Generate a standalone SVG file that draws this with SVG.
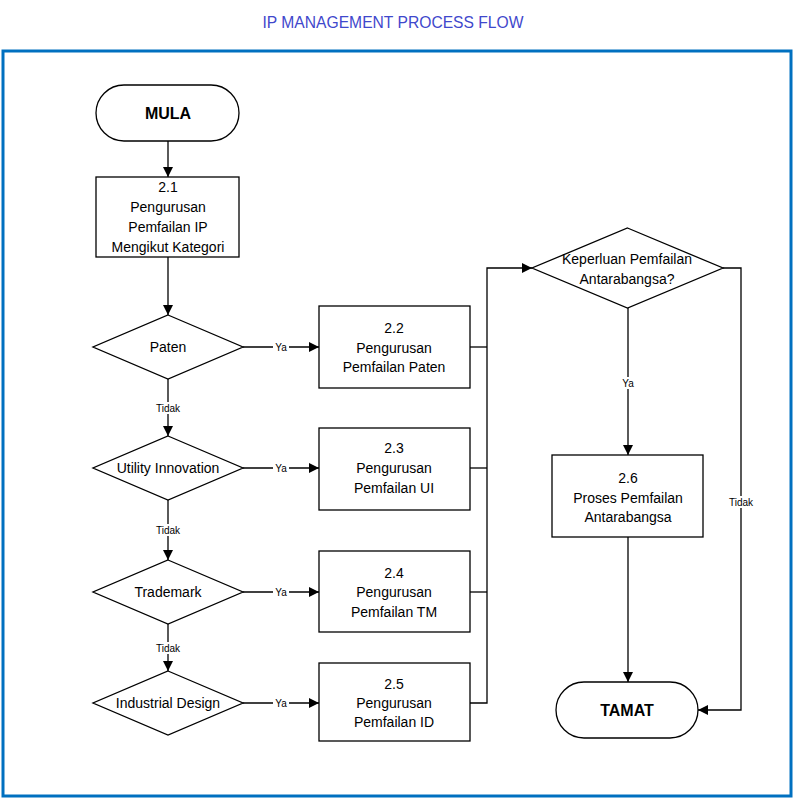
<svg xmlns="http://www.w3.org/2000/svg" width="795" height="800" viewBox="0 0 795 800">
<style>
.shape{fill:#fff;stroke:#000;stroke-width:1.3}
.t{font-family:"Liberation Sans",Arial,sans-serif;font-size:14px;fill:#000;text-anchor:middle}
.b{font-family:"Liberation Sans",Arial,sans-serif;font-size:16px;font-weight:bold;fill:#000;text-anchor:middle}
.lbl{font-family:"Liberation Sans",Arial,sans-serif;font-size:10px;fill:#000;text-anchor:middle}
.ln{fill:none;stroke:#000;stroke-width:1.3}
.bg{fill:#fff}
</style>
<defs>
<marker id="ah" viewBox="0 0 10 10" refX="10" refY="5" markerWidth="10" markerHeight="10" markerUnits="userSpaceOnUse" orient="auto">
<path d="M0,0 L10,5 L0,10 Z" fill="#000"/>
</marker>
</defs>
<rect width="795" height="800" fill="#fff"/>
<text x="393" y="28" font-family="Liberation Sans,Arial,sans-serif" font-size="17" fill="#3f48cc" text-anchor="middle" textLength="261" lengthAdjust="spacingAndGlyphs">IP MANAGEMENT PROCESS FLOW</text>
<rect x="3" y="51" width="788" height="745" fill="none" stroke="#0070c0" stroke-width="3"/>

<g id="connectors">
<line class="ln" x1="168" y1="141" x2="168" y2="177" marker-end="url(#ah)"/>
<line class="ln" x1="168" y1="257" x2="168" y2="315" marker-end="url(#ah)"/>
<line class="ln" x1="243" y1="347" x2="319" y2="347" marker-end="url(#ah)"/>
<line class="ln" x1="243" y1="468" x2="319" y2="468" marker-end="url(#ah)"/>
<line class="ln" x1="243" y1="592" x2="319" y2="592" marker-end="url(#ah)"/>
<line class="ln" x1="243" y1="703" x2="319" y2="703" marker-end="url(#ah)"/>
<line class="ln" x1="168" y1="379" x2="168" y2="436" marker-end="url(#ah)"/>
<line class="ln" x1="168" y1="500" x2="168" y2="560" marker-end="url(#ah)"/>
<line class="ln" x1="168" y1="624" x2="168" y2="671" marker-end="url(#ah)"/>
<polyline class="ln" points="470,347 487,347"/>
<polyline class="ln" points="470,468 487,468"/>
<polyline class="ln" points="470,592 487,592"/>
<polyline class="ln" points="470,703 487,703 487,268 532,268" marker-end="url(#ah)"/>
<line class="ln" x1="628" y1="308" x2="628" y2="455" marker-end="url(#ah)"/>
<line class="ln" x1="628" y1="537" x2="628" y2="682" marker-end="url(#ah)"/>
<polyline class="ln" points="723,268 741,268 741,710 698,710" marker-end="url(#ah)"/>
<rect class="bg" x="273" y="341" width="16" height="12"/>
<text class="lbl" x="281" y="351">Ya</text>
<rect class="bg" x="273" y="462" width="16" height="12"/>
<text class="lbl" x="281" y="472">Ya</text>
<rect class="bg" x="273" y="586" width="16" height="12"/>
<text class="lbl" x="281" y="596">Ya</text>
<rect class="bg" x="273" y="697" width="16" height="12"/>
<text class="lbl" x="281" y="707">Ya</text>
<rect class="bg" x="153" y="402" width="30" height="12"/>
<text class="lbl" x="168" y="412">Tidak</text>
<rect class="bg" x="153" y="524" width="30" height="12"/>
<text class="lbl" x="168" y="534">Tidak</text>
<rect class="bg" x="153" y="642" width="30" height="12"/>
<text class="lbl" x="168" y="652">Tidak</text>
<rect class="bg" x="620" y="377" width="16" height="12"/>
<text class="lbl" x="628" y="387">Ya</text>
<rect class="bg" x="726" y="496" width="30" height="12"/>
<text class="lbl" x="741" y="506">Tidak</text>
</g>

<g id="mula">
<rect class="shape" x="96" y="85" width="143" height="56" rx="28" ry="28"/>
<text class="b" x="168" y="119">MULA</text>
</g>
<g id="n21">
<rect class="shape" x="96" y="177" width="143" height="80"/>
<text class="t" x="168" y="192">2.1</text>
<text class="t" x="168" y="212">Pengurusan</text>
<text class="t" x="168" y="232">Pemfailan IP</text>
<text class="t" x="168" y="252">Mengikut Kategori</text>
</g>
<g id="paten">
<polygon class="shape" points="168,315 243,347 168,379 93,347"/>
<text class="t" x="168" y="352">Paten</text>
</g>
<g id="ui">
<polygon class="shape" points="168,436 243,468 168,500 93,468"/>
<text class="t" x="168" y="473">Utility Innovation</text>
</g>
<g id="tm">
<polygon class="shape" points="168,560 243,592 168,624 93,592"/>
<text class="t" x="168" y="597">Trademark</text>
</g>
<g id="id">
<polygon class="shape" points="168,671 243,703 168,735 93,703"/>
<text class="t" x="168" y="708">Industrial Design</text>
</g>
<g id="n22">
<rect class="shape" x="319" y="306" width="151" height="82"/>
<text class="t" x="394" y="333">2.2</text>
<text class="t" x="394" y="353">Pengurusan</text>
<text class="t" x="394" y="372">Pemfailan Paten</text>
</g>
<g id="n23">
<rect class="shape" x="319" y="428" width="151" height="82"/>
<text class="t" x="394" y="453">2.3</text>
<text class="t" x="394" y="473">Pengurusan</text>
<text class="t" x="394" y="493">Pemfailan UI</text>
</g>
<g id="n24">
<rect class="shape" x="319" y="551" width="151" height="81"/>
<text class="t" x="394" y="578">2.4</text>
<text class="t" x="394" y="597">Pengurusan</text>
<text class="t" x="394" y="617">Pemfailan TM</text>
</g>
<g id="n25">
<rect class="shape" x="319" y="663" width="151" height="78"/>
<text class="t" x="394" y="689">2.5</text>
<text class="t" x="394" y="708">Pengurusan</text>
<text class="t" x="394" y="727">Pemfailan ID</text>
</g>
<g id="intl">
<polygon class="shape" points="627.5,228 723,268 627.5,308 532,268"/>
<text class="t" x="627" y="264">Keperluan Pemfailan</text>
<text class="t" x="627" y="284">Antarabangsa?</text>
</g>
<g id="n26">
<rect class="shape" x="552" y="455" width="151" height="82"/>
<text class="t" x="628" y="483">2.6</text>
<text class="t" x="628" y="503">Proses Pemfailan</text>
<text class="t" x="628" y="522">Antarabangsa</text>
</g>
<g id="tamat">
<rect class="shape" x="556" y="682" width="142" height="56" rx="28" ry="28"/>
<text class="b" x="627" y="716">TAMAT</text>
</g>
</svg>
